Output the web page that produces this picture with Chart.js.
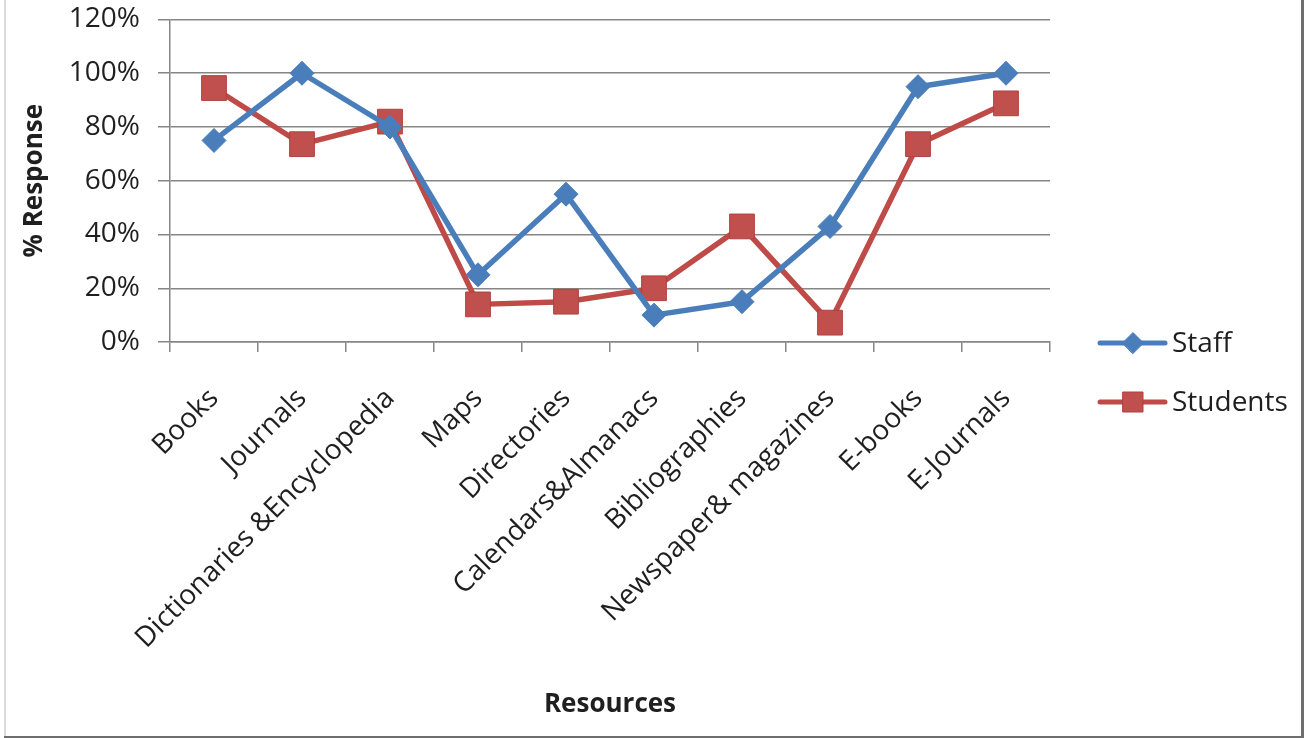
<!DOCTYPE html>
<html>
<head>
<meta charset="utf-8">
<title>% Response by resource</title>
<script src="https://cdn.jsdelivr.net/npm/chart.js@4.4.1/dist/chart.umd.min.js"></script>
<style>
  html, body { margin: 0; padding: 0; background: #fff; }
  #wrap { width: 1304px; height: 738px; }
</style>
</head>
<body>
<div id="wrap"><canvas id="responseChart" width="1304" height="738"></canvas></div>
<script>
var resources = ['Books', 'Journals', 'Dictionaries &Encyclopedia', 'Maps', 'Directories',
                 'Calendars&Almanacs', 'Bibliographies', 'Newspaper& magazines', 'E-books', 'E-Journals'];
var staff = [75, 100, 80, 25, 55, 10, 15, 43, 95, 100];
var students = [94.5, 73.6, 82, 14, 15, 20, 43, 7.2, 73.6, 88.8];
var yTicks = [0, 20, 40, 60, 80, 100, 120];

var gridGray = '#868686';
var textColor = '#1f1f1f';
var fontName = '"Open Sans", "DejaVu Sans", sans-serif';

// white page with the thin frame round it
var frame = {
  id: 'frame',
  beforeDraw: function (chart) {
    var ctx = chart.ctx;
    ctx.save();
    ctx.fillStyle = '#fff';
    ctx.fillRect(0, 0, chart.width, chart.height);
    ctx.restore();
  },
  afterDraw: function (chart) {
    var ctx = chart.ctx, w = chart.width, h = chart.height;
    ctx.save();
    ctx.fillStyle = '#dcdcdc';
    ctx.fillRect(4, 0, 2, h);
    ctx.fillStyle = '#6e6e6e';
    ctx.fillRect(w - 3, 0, 3, h);
    ctx.fillRect(4, h - 2, w - 4, 2);
    ctx.restore();
  }
};

// legend on the right: a short line with the marker on it, then the name
var sideLegend = {
  id: 'sideLegend',
  afterDraw: function (chart) {
    var ctx = chart.ctx;
    var rows = [343, 402];
    chart.data.datasets.forEach(function (ds, i) {
      var y = rows[i], cx = 1133;
      ctx.save();
      ctx.strokeStyle = ds.borderColor;
      ctx.lineWidth = 5;
      ctx.lineCap = 'round';
      ctx.beginPath();
      ctx.moveTo(1100, y);
      ctx.lineTo(1165, y);
      ctx.stroke();
      ctx.fillStyle = ds.pointBackgroundColor;
      ctx.strokeStyle = ds.pointBorderColor;
      ctx.lineWidth = 1;
      ctx.beginPath();
      if (ds.pointStyle === 'rectRot') {
        ctx.moveTo(cx - 10.5, y);
        ctx.lineTo(cx, y - 10.5);
        ctx.lineTo(cx + 10.5, y);
        ctx.lineTo(cx, y + 10.5);
        ctx.closePath();
      } else {
        ctx.rect(cx - 10, y - 10, 20, 20);
      }
      ctx.fill();
      ctx.stroke();
      ctx.fillStyle = textColor;
      ctx.font = '28px ' + fontName;
      ctx.textBaseline = 'middle';
      ctx.textAlign = 'left';
      ctx.fillText(ds.label, 1172, y + 1);
      ctx.restore();
    });
  }
};

var ctx = document.getElementById('responseChart');

var myChart = new Chart(ctx, {
  type: 'line',
  data: {
    labels: resources,
    datasets: [
      {
        label: 'Staff',
        data: staff,
        borderColor: '#4a7ebb',
        borderWidth: 5.5,
        borderJoinStyle: 'round',
        pointStyle: 'rectRot',
        pointRadius: 12,
        pointHoverRadius: 12,
        pointBackgroundColor: '#4a7ebb',
        pointBorderColor: '#4a7ebb',
        pointBorderWidth: 1,
        fill: false,
        tension: 0
      },
      {
        label: 'Students',
        data: students,
        borderColor: '#be4b48',
        borderWidth: 5.5,
        borderJoinStyle: 'round',
        pointStyle: 'rect',
        pointRadius: 17.5,
        pointHoverRadius: 17.5,
        pointBackgroundColor: '#c0504d',
        pointBorderColor: '#b0403d',
        pointBorderWidth: 1,
        fill: false,
        tension: 0
      }
    ]
  },
  options: {
    responsive: false,
    animation: false,
    devicePixelRatio: 1,
    layout: { padding: { left: 0, right: 254, top: 19.5, bottom: 0 } },
    plugins: {
      legend: { display: false },
      tooltip: { enabled: false }
    },
    scales: {
      x: {
        offset: true,
        grid: {
          offset: true,
          drawOnChartArea: false,
          drawTicks: true,
          tickLength: 10,
          color: gridGray,
          lineWidth: 1.5
        },
        border: { color: gridGray, width: 1.5 },
        ticks: {
          autoSkip: false,
          minRotation: 45,
          maxRotation: 45,
          padding: 30,
          labelOffset: 0,
          color: textColor,
          font: { family: fontName, size: 28 }
        },
        title: {
          display: true,
          text: 'Resources',
          color: textColor,
          font: { family: fontName, size: 26, weight: 'bold' },
          padding: { top: 0, bottom: 18 }
        },
        afterFit: function (scale) { scale.height = 396; }
      },
      y: {
        min: 0,
        max: 120,
        afterBuildTicks: function (axis) {
          axis.ticks = yTicks.map(function (v) { return { value: v }; });
        },
        grid: {
          color: gridGray,
          lineWidth: 1.5,
          drawTicks: true,
          tickLength: 12
        },
        border: { color: gridGray, width: 1.5 },
        ticks: {
          padding: 18,
          color: textColor,
          font: { family: fontName, size: 28 },
          callback: function (v) { return v + '%'; }
        },
        title: {
          display: true,
          text: '% Response',
          color: textColor,
          font: { family: fontName, size: 26, weight: 'bold' },
          padding: { top: 19, bottom: 0 }
        },
        afterFit: function (scale) {
          scale.width = 170;
          // the top label may sit in the layout padding
          scale.paddingTop = 0;
          scale.paddingBottom = 0;
        }
      }
    }
  },
  plugins: [frame, sideLegend]
});
</script>
</body>
</html>
